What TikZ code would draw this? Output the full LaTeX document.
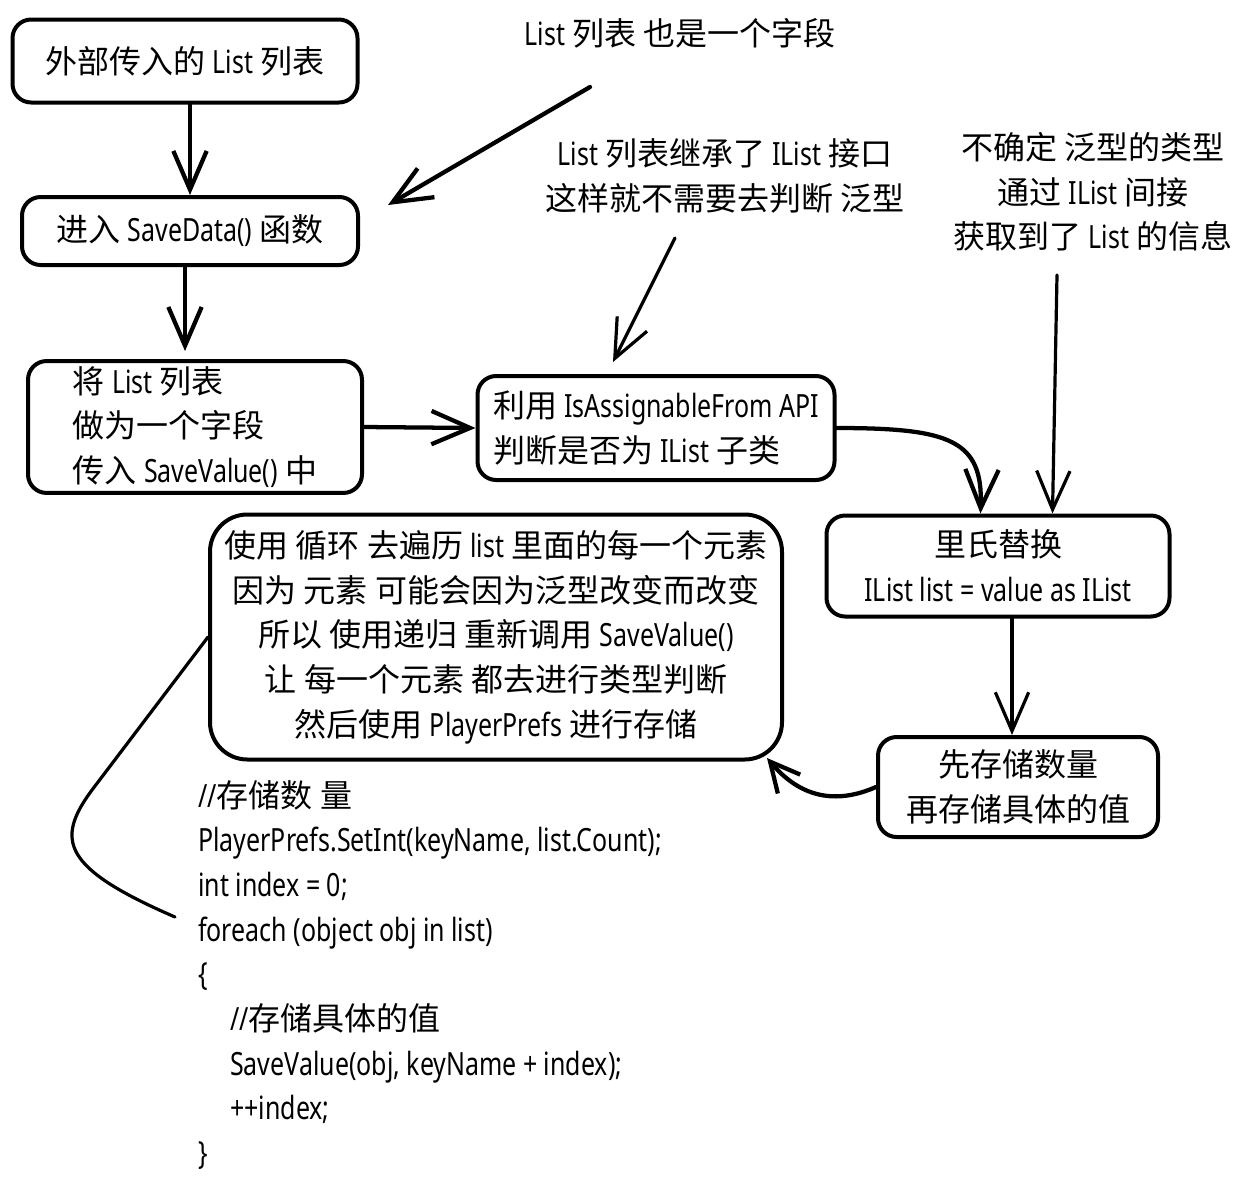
\documentclass[tikz,border=0pt]{standalone}
\usepackage{fontspec}
\setmainfont{Noto Sans CJK SC}
\newfontfamily\latnarrow[FakeStretch=0.78]{Noto Sans}
\newcommand\latw[1]{{\latnarrow #1}}
\usetikzlibrary{arrows.meta,calc}
\newlength\pxl
\setlength\pxl{0.75pt}
\tikzset{
  hand/.style={font=\fontsize{24pt}{33.5pt}\selectfont},
  box/.style={hand, draw, line width=3pt, rounded corners=14pt, align=center, inner sep=4pt},
  arr/.style={line width=3.2pt, line cap=round, -{Straight Barb[length=29pt,width=25pt]}},
  thinarr/.style={line width=2.4pt, line cap=round, -{Straight Barb[length=29pt,width=25pt]}},
  link/.style={line width=2.4pt, line cap=round},
  note/.style={hand, align=center, inner sep=0pt}
}
\begin{document}
\begin{tikzpicture}[x=0.75pt, y=-0.75pt]
\useasboundingbox[fill=white] (0,0) rectangle (1249,1182);

% main flow boxes
\node[box, minimum width=345\pxl, minimum height=83\pxl] (b1) at (185,61)
  {外部传入的 \latw{List} 列表};
\node[box, minimum width=336\pxl, minimum height=68\pxl] (b2) at (190,231)
  {进入 \latw{SaveData()} 函数};
\node[box, align=left, minimum width=334\pxl, minimum height=131\pxl] (b3) at (195,427)
  {将 \latw{List} 列表\\做为一个字段\\传入 \latw{SaveValue()} 中};
\node[box, align=left, minimum width=357\pxl, minimum height=104\pxl] (b4) at (656,428)
  {利用 \latw{IsAssignableFrom API}\\判断是否为 \latw{IList} 子类};
\node[box, minimum width=343\pxl, minimum height=101\pxl] (b5) at (998,566)
  {里氏替换\\\latw{IList list = value as IList}};
\node[box, minimum width=280\pxl, minimum height=100\pxl] (b6) at (1018,787)
  {先存储数量\\再存储具体的值};
\node[box, rounded corners=28pt, minimum width=572\pxl, minimum height=245\pxl] (b7) at (496,637)
  {使用 循环 去遍历 \latw{list} 里面的每一个元素\\
   因为 元素 可能会因为泛型改变而改变\\
   所以 使用递归 重新调用 \latw{SaveValue()}\\
   让 每一个元素 都去进行类型判断\\
   然后使用 \latw{PlayerPrefs} 进行存储};

% side notes
\node[note] (t1) at (680,33) {\latw{List} 列表 也是一个字段};
\node[note] (t2) at (725,176) {\latw{List} 列表继承了 \latw{IList} 接口\\这样就不需要去判断 泛型};
\node[note] (t3) at (1093,192) {不确定 泛型的类型\\通过 \latw{IList} 间接\\获取到了 \latw{List} 的信息};

% code listing
\node[hand, anchor=north west, align=left, inner sep=0pt] (code) at (198,780)
  {\latw{//}存储数 量\\
   \latw{PlayerPrefs.SetInt(keyName, list.Count);}\\
   \latw{int index = 0;}\\
   \latw{foreach (object obj in list)}\\
   \latw{\{}\\
   \hspace*{24pt}\latw{//}存储具体的值\\
   \hspace*{24pt}\latw{SaveValue(obj, keyName + index);}\\
   \hspace*{24pt}\latw{++index;}\\
   \latw{\}}};

% free ends of the note arrows
\coordinate (n1s) at (590,87);
\coordinate (n1e) at (388,205);
\coordinate (n2s) at (675,238);
\coordinate (n2e) at (613,362);
\coordinate (n3s) at (1057,275);
\coordinate (lnk) at (175,917);
\coordinate (b7tip) at (767,758);

% connectors
\draw[arr] ($(b1.south)+(5,0)$) -- (b2.north);
\draw[arr] ($(b2.south)+(-5,0)$) -- ($(b3.north)+(-10,-8)$);
\draw[arr] (b3.east) -- (b4.west);
\draw[arr] (n1s) -- (n1e);
\draw[thinarr] (n2s) -- (n2e);
\draw[thinarr] (n3s) -- ($(b5.north west)+(228,0)$);
\draw[arr] (b4.east) .. controls (950,428) and (983,440) .. ($(b5.north west)+(156,0)$);
\draw[thinarr] ($(b5.south)+(14,0)$) -- ($(b6.north)+(-6,0)$);
\draw[line width=3.2pt, line cap=round, -{Straight Barb[length=22pt,width=22pt]}]
  (b6.west) .. controls (835,805) and (800,797) .. (b7tip);
\draw[link] (b7.west) -- (92,790) .. controls (55,840) and (62,868) .. (lnk);
\end{tikzpicture}
\end{document}
